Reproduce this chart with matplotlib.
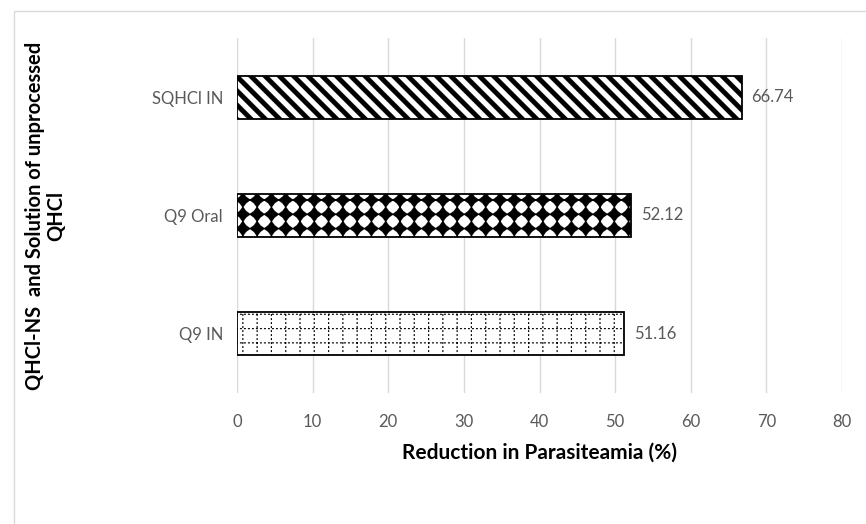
import numpy as np
import matplotlib
matplotlib.use('Agg')
from matplotlib import pyplot as plt
import matplotlib.hatch as mhatch
from matplotlib.path import Path
from matplotlib.patches import Rectangle

# data
categories = ['Q9 IN', 'Q9 Oral', 'SQHCl IN']
reduction = [51.16, 52.12, 66.74]
xticks = [0, 10, 20, 30, 40, 50, 60, 70, 80]


# custom filled hatch patterns (tile = 1 inch)
class FilledPattern(mhatch.HatchPatternBase):
    char = None

    def __init__(self, hatch, density):
        n = hatch.count(self.char)
        self.polys = self.make() if n else []
        self.num_vertices = sum(len(p) + 1 for p in self.polys)

    def set_vertices_and_codes(self, vertices, codes):
        i = 0
        for p in self.polys:
            k = len(p)
            vertices[i:i + k] = p
            vertices[i + k] = p[0]
            codes[i] = Path.MOVETO
            codes[i + 1:i + k] = Path.LINETO
            codes[i + k] = Path.CLOSEPOLY
            i += k + 1


class Stripes(FilledPattern):
    char = '\\'

    def make(self):
        reps = 7
        w = 0.47 / reps
        polys = []
        for k in range(-2, 2 * reps + 2):
            c = k / reps
            polys.append([(-1, c + 1), (2, c - 2), (2, c - 2 + w), (-1, c + 1 + w)])
        return polys


class Diamonds(FilledPattern):
    char = 'O'

    def make(self):
        nx, ny = 7, 7
        a, b, s = 0.55 / nx, 0.55 / ny, 0.42
        polys = []
        for i in range(nx + 1):
            for j in range(ny + 1):
                cx, cy = i / nx, j / ny
                polys.append([(cx + a, cy), (cx + s * a, cy + s * b), (cx, cy + b),
                              (cx - s * a, cy + s * b), (cx - a, cy), (cx - s * a, cy - s * b),
                              (cx, cy - b), (cx + s * a, cy - s * b)])
        return polys


class DottedGrid(FilledPattern):
    char = 'o'

    def make(self):
        n = 7
        t = 0.010
        period, dash = 1 / 25, 0.019
        polys = []
        for i in range(n + 1):
            x = i / n
            for m in range(25):
                y0 = m * period
                polys.append([(x - t / 2, y0), (x + t / 2, y0), (x + t / 2, y0 + dash), (x - t / 2, y0 + dash)])
                polys.append([(y0, x - t / 2), (y0 + dash, x - t / 2), (y0 + dash, x + t / 2), (y0, x + t / 2)])
        return polys


mhatch._hatch_types = [Stripes if t is mhatch.SouthEastHatch else
                       Diamonds if t is mhatch.LargeCircles else
                       DottedGrid if t is mhatch.SmallCircles else t
                       for t in mhatch._hatch_types]

plt.rcParams['font.family'] = ['Lato', 'DejaVu Sans']
plt.rcParams['hatch.linewidth'] = 0.1

fig = plt.figure(figsize=(8.66, 5.24), dpi=100)
ax = fig.add_axes([237 / 866, 1 - 393 / 524, (842 - 237) / 866, (393 - 38) / 524])

# outer chart border
fig.patches.append(Rectangle((14 / 866, -0.2), 2, 1.2 - 11 / 524, transform=fig.transFigure,
                             fill=False, edgecolor='#d9d9d9', linewidth=1.0))

hatches = ['o', 'O', '\\']
y = np.arange(len(categories))
bars = ax.barh(y, reduction, height=0.365, color='white', edgecolor='black',
               linewidth=1.3, zorder=3)
for bar, h in zip(bars, hatches):
    bar.set_hatch(h)

for yi, v in zip(y, reduction):
    ax.text(v + 1.3, yi, f'{v:.2f}', va='center', ha='left', fontsize=12, color='#595959')

ax.set_xlim(0, 80)
ax.set_ylim(-0.5, 2.5)
ax.set_xticks(xticks)
ax.set_yticks(y)
ax.set_yticklabels(categories)
ax.tick_params(length=0, labelsize=12, labelcolor='#595959', pad=10)
ax.tick_params(axis='x', pad=15)
ax.grid(axis='x', color='#d9d9d9', linewidth=1.0, zorder=0)
ax.set_axisbelow(True)
for s in ax.spines.values():
    s.set_visible(False)

ax.set_xlabel('Reduction in Parasiteamia (%)', fontsize=15, fontweight='bold', labelpad=9)
ax.set_ylabel('QHCl-NS  and Solution of unprocessed\nQHCl', fontsize=14.5, fontweight='bold',
              labelpad=0, linespacing=1.1)
ax.yaxis.set_label_coords(-0.282, 0.5)

fig.savefig('out.png', dpi=100)
